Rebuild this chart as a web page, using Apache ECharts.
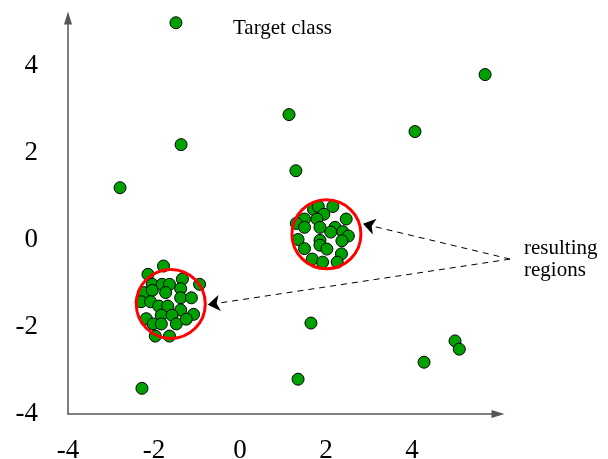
<!DOCTYPE html>
<html>
<head>
<meta charset="utf-8">
<script src="https://cdn.jsdelivr.net/npm/echarts@6/dist/echarts.min.js"></script>
<style>
  html, body { margin: 0; padding: 0; background: #fff; }
  #chart { width: 608px; height: 459px; }
</style>
</head>
<body>
<div id="chart"></div>
<script>
// scattered points of the target class
const outlierPoints = [
  [-1.49, 4.99], [5.70, 3.80], [1.14, 2.88], [4.07, 2.49], [-1.37, 2.19],
  [1.30, 1.59], [-2.79, 1.20], [1.65, -1.91], [-2.28, -3.41], [1.35, -3.20],
  [4.28, -2.81], [5.00, -2.32], [5.10, -2.51],
];

// dense cluster on the right
const clusterRight = [
  [1.71, 0.70], [1.82, 0.77], [2.16, 0.77], [1.95, 0.59], [1.79, 0.48],
  [1.50, 0.48], [1.31, 0.38], [1.50, 0.29], [1.86, 0.29], [2.47, 0.48],
  [2.21, 0.29], [2.11, 0.18], [2.39, 0.19], [2.52, 0.09], [2.37, -0.02],
  [1.35, 0.01], [1.86, -0.01], [1.86, -0.12], [2.02, -0.21], [1.50, -0.20],
  [2.36, -0.32], [1.68, -0.44], [1.92, -0.51], [2.26, -0.51],
];

// dense cluster on the left
const clusterLeft = [
  [-1.78, -0.60], [-2.14, -0.79], [-2.04, -1.02], [-1.81, -1.02], [-1.64, -1.02],
  [-1.34, -0.90], [-0.94, -1.02], [-2.24, -1.21], [-2.04, -1.16], [-1.73, -1.21],
  [-1.38, -1.12], [-2.30, -1.42], [-2.08, -1.42], [-1.38, -1.33], [-1.13, -1.33],
  [-1.89, -1.52], [-1.68, -1.52], [-1.38, -1.61], [-1.83, -1.73], [-1.58, -1.73],
  [-1.08, -1.71], [-2.18, -1.81], [-2.02, -1.93], [-1.83, -1.93], [-1.48, -1.93],
  [-1.25, -1.82], [-1.97, -2.21], [-1.64, -2.21],
];

// centres of the red region circles
const regionCenters = [[2.01, 0.13], [-1.61, -1.47]];

// dashed annotation arrows
const arrowStart = [6.28, -0.44];
const arrowEnds = [[2.86, 0.37], [-0.75, -1.49]];

const xTicks = [-4, -2, 0, 2, 4];
const yTicks = [-4, -2, 0, 2, 4];

const serif = 'Liberation Serif';

const option = {
  animation: false,
  grid: { left: 68, right: 110, top: 18, bottom: 45, outerBoundsMode: 'none' },
  xAxis: {
    type: 'value',
    min: -4,
    max: 6,
    splitLine: { show: false },
    axisTick: { show: false },
    axisLine: {
      onZero: false,
      symbol: ['none', 'triangle'],
      symbolSize: [8, 13],
      lineStyle: { color: '#555', width: 1.5 },
    },
    axisLabel: {
      customValues: xTicks,
      margin: 23,
      fontFamily: serif,
      fontSize: 27,
      color: '#000',
    },
  },
  yAxis: {
    type: 'value',
    min: -4,
    max: 5.1,
    splitLine: { show: false },
    axisTick: { show: false },
    axisLine: {
      onZero: false,
      symbol: ['none', 'triangle'],
      symbolSize: [8, 13],
      lineStyle: { color: '#555', width: 1.5 },
    },
    axisLabel: {
      customValues: yTicks,
      margin: 30,
      fontFamily: serif,
      fontSize: 27,
      color: '#000',
    },
  },
  graphic: [
    {
      type: 'text',
      left: 233,
      top: 18,
      style: { text: 'Target class', font: '21px "Liberation Serif"', fill: '#000' },
    },
    {
      type: 'text',
      left: 524,
      top: 237,
      style: {
        text: 'resulting\nregions',
        font: '21px "Liberation Serif"',
        lineHeight: 22,
        fill: '#000',
      },
    },
  ],
  series: [
    {
      type: 'scatter',
      data: outlierPoints.concat(clusterRight, clusterLeft),
      symbolSize: 12,
      itemStyle: { color: '#00a000', borderColor: '#000', borderWidth: 1, opacity: 1 },
      z: 2,
    },
    {
      type: 'scatter',
      data: regionCenters,
      symbolSize: 69,
      silent: true,
      itemStyle: { color: 'rgba(0,0,0,0)', borderColor: '#ff0000', borderWidth: 3, opacity: 1 },
      z: 3,
    },
    {
      type: 'lines',
      coordinateSystem: 'cartesian2d',
      clip: false,
      symbol: ['none', 'arrow'],
      symbolSize: [7, 12],
      lineStyle: { color: '#000', width: 1, type: [6, 5], opacity: 1 },
      data: arrowEnds.map((end) => ({ coords: [arrowStart, end] })),
      z: 4,
    },
  ],
};

const chart = echarts.init(document.getElementById('chart'));
chart.setOption(option);
</script>
</body>
</html>
